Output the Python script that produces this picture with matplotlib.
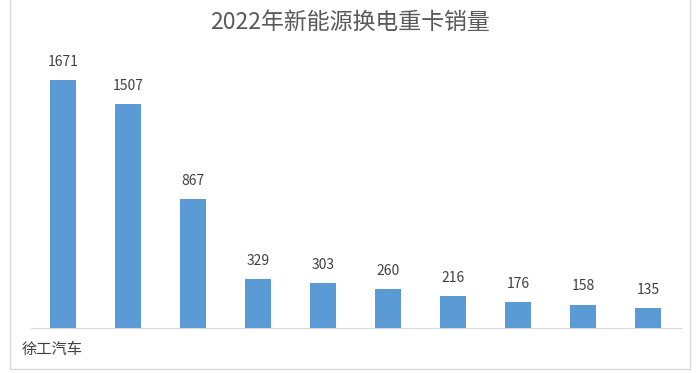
import matplotlib.pyplot as plt
from matplotlib.patches import Rectangle
from matplotlib.transforms import ScaledTranslation

plt.rcParams['font.family'] = ['Noto Sans CJK SC', 'DejaVu Sans']

# data
brands = ["徐工汽车", "", "", "", "", "", "", "", "", ""]
sales = [1671, 1507, 867, 329, 303, 260, 216, 176, 158, 135]
title = "2022年新能源换电重卡销量"

fig = plt.figure(figsize=(7, 3.73), dpi=100)
ax = fig.add_axes([30.5 / 700, 45 / 373, 650 / 700, 288 / 373])

x = list(range(len(sales)))
bars = ax.bar(x, sales, width=0.4, color="#5B9BD5")
for b, v in zip(bars, sales):
    ax.text(b.get_x() + b.get_width() / 2, v + 75, str(v),
            ha="center", va="bottom", fontsize=10, color="#404040")

ax.set_xlim(-0.5, len(sales) - 0.5)
ax.set_ylim(0, 1940)
ax.set_xticks(x)
ax.set_xticklabels(brands, fontsize=11, color="#404040")
ax.tick_params(axis="x", length=0, pad=9)
shift = ScaledTranslation(-11 / 100, 0, fig.dpi_scale_trans)
for lbl in ax.get_xticklabels():
    lbl.set_transform(lbl.get_transform() + shift)
ax.set_yticks([])
for s in ["top", "right", "left"]:
    ax.spines[s].set_visible(False)
ax.spines["bottom"].set_color("#d9d9d9")

fig.text(0.5, 0.94, title, ha="center", va="center", fontsize=16.5, color="#595959")

# outer chart border
fig.patches.append(Rectangle((10 / 700, 4 / 373), 680 / 700, 380 / 373,
                             transform=fig.transFigure, fill=False,
                             edgecolor="#d9d9d9", linewidth=1))

fig.savefig("out.png", dpi=100)
